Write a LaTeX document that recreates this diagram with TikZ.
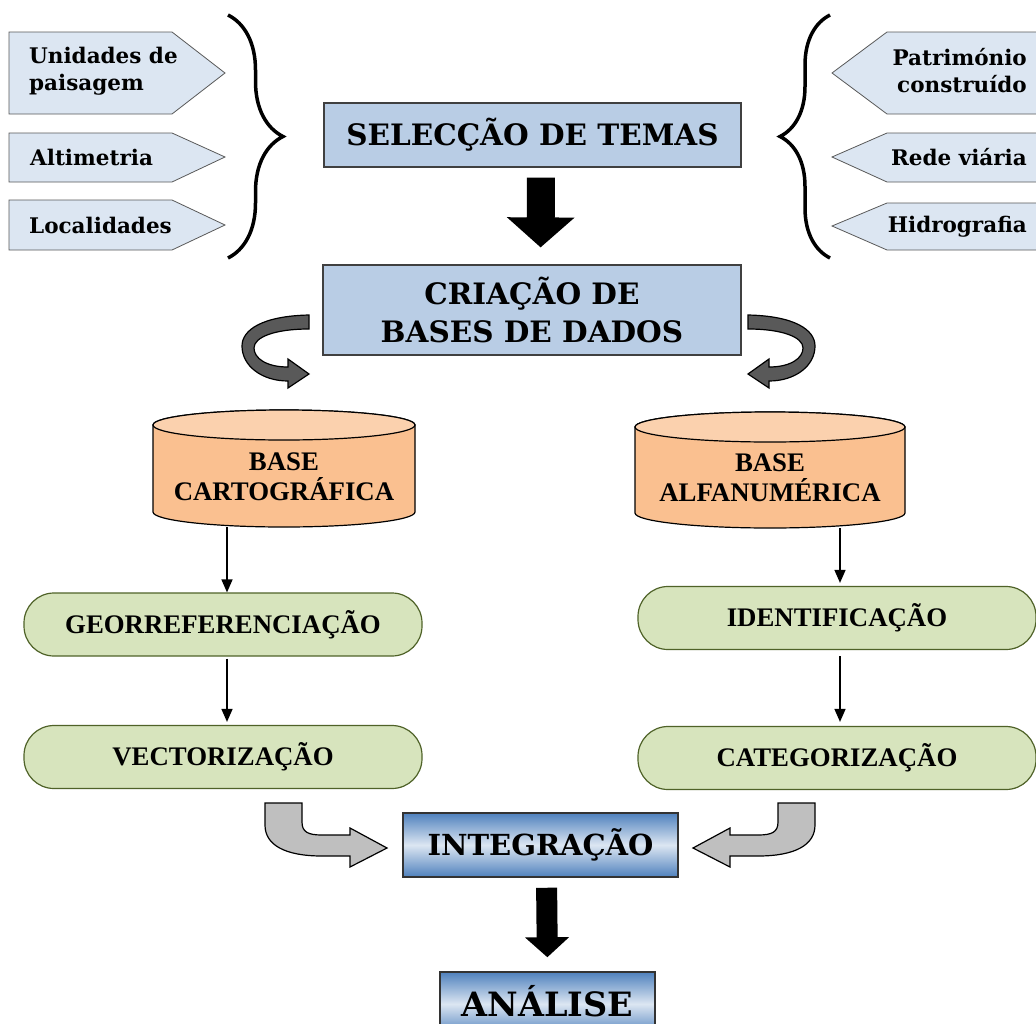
\documentclass[tikz,border=0pt]{standalone}
\usepackage{fontspec}
\setmainfont{Liberation Serif}
\newfontfamily\bookfont{DejaVu Serif}
\usetikzlibrary{arrows.meta,decorations.pathreplacing}

\definecolor{tagblue}{HTML}{DCE6F2}
\definecolor{boxblue}{HTML}{B9CDE5}
\definecolor{darkblue}{HTML}{4F81BD}
\definecolor{cylorange}{HTML}{FAC090}
\definecolor{cyltop}{HTML}{FBD1AE}
\definecolor{stepgreen}{HTML}{D7E4BD}
\definecolor{stepborder}{HTML}{4F6228}
\definecolor{bentgray}{HTML}{BFBFBF}
\definecolor{curlgray}{HTML}{595959}

\begin{document}
\begin{tikzpicture}[x=1pt,y=-1pt,
  tag/.style={fill=tagblue,draw=black!65,line width=0.8pt},
  tagtext/.style={font=\bookfont\bfseries\fontsize{21.5}{27}\selectfont,inner sep=0pt},
  titlebox/.style={fill=boxblue,draw=black!75,line width=1.2pt,align=center,
    font=\bookfont\bfseries\fontsize{29.5}{38}\selectfont,inner sep=0pt},
  shadebox/.style={top color=darkblue,bottom color=darkblue,middle color=tagblue,
    draw=black!80,line width=1.5pt,inner sep=0pt,font=\bookfont\bfseries\fontsize{29}{36}\selectfont},
  cyl/.style={fill=cylorange,draw=black,line width=1.2pt},
  cyltext/.style={align=center,font=\bfseries\fontsize{26.8}{30}\selectfont},
  stepbox/.style={fill=stepgreen,draw=stepborder,line width=1.2pt,rounded corners=30pt,
    minimum width=398pt,minimum height=63pt,font=\bfseries\fontsize{26.8}{30}\selectfont},
  link/.style={line width=1.5pt,-{Triangle[length=13pt,width=11pt]}},
  blockarrow/.style={line width=28pt,-{Triangle[length=30pt,width=66pt]}},
  smallblock/.style={line width=21pt,-{Triangle[length=20pt,width=43pt]}},
  brace/.style={line width=3.5pt,decorate,decoration={brace,amplitude=#1}},
  bent/.style={fill=bentgray,draw=black,line width=1.2pt},
  curl/.style={fill=curlgray,draw=black,line width=1.2pt}]

\useasboundingbox (0,0) rectangle (1036,1023);
\clip (0,0) rectangle (1036,1023);

% themes on the left
\draw[tag] (9,32) -- (172,32) -- (225,73) -- (172,114) -- (9,114) -- cycle;
\draw[tag] (9,133) -- (172,133) -- (225,157) -- (172,182) -- (9,182) -- cycle;
\draw[tag] (9,200) -- (172,200) -- (225,225) -- (172,250) -- (9,250) -- cycle;
\node[tagtext,anchor=west,align=left] (unid) at (29,71) {Unidades de\\paisagem};
\node[tagtext,anchor=west] (alti) at (30,157) {Altimetria};
\node[tagtext,anchor=west] (local) at (29,225) {Localidades};
\draw[brace=55pt] (228,15) -- (228,258);

% themes on the right
\draw[tag] (1040,32) -- (887,32) -- (832,73) -- (887,114) -- (1040,114) -- cycle;
\draw[tag] (1040,133) -- (887,133) -- (832,157) -- (887,182) -- (1040,182) -- cycle;
\draw[tag] (1040,203) -- (887,203) -- (832,226) -- (887,250) -- (1040,250) -- cycle;
\node[tagtext,anchor=east,align=right] (patri) at (1027,71) {Património\\construído};
\node[tagtext,anchor=east] (rede) at (1027,157) {Rede viária};
\node[tagtext,anchor=east] (hidro) at (1027,227) {Hidrografia};
\draw[brace=50pt] (830,258) -- (830,15);

% main boxes
\node[titlebox,minimum width=417pt,minimum height=64pt] (temas) at (532.5,135) {SELECÇÃO DE TEMAS};
\node[titlebox,minimum width=418pt,minimum height=90pt] (bases) at (532,310) {CRIAÇÃO DE\\BASES DE DADOS};
\draw[blockarrow,shorten <=10pt,shorten >=17pt] ([xshift=8.5pt]temas.south) -- ([xshift=8.5pt]bases.north);

% curled arrows
\draw[curl] (309,315) .. controls (262,316) and (242,330) .. (242,346)
  .. controls (242,366) and (262,381) .. (288,381) -- (288,388) -- (309,374) -- (288,359) -- (288,367)
  .. controls (266,367) and (254,358) .. (254,348) .. controls (254,337) and (275,329) .. (309,329) -- cycle;
\draw[curl] (748,315) .. controls (795,316) and (815,330) .. (815,346)
  .. controls (815,366) and (795,381) .. (769,381) -- (769,388) -- (748,374) -- (769,359) -- (769,367)
  .. controls (791,367) and (803,358) .. (803,348) .. controls (803,337) and (782,329) .. (748,329) -- cycle;

% databases
\draw[cyl] (153,425) -- (153,512) arc[start angle=180,end angle=0,x radius=131,y radius=15]
  -- (415,425) arc[start angle=0,end angle=-180,x radius=131,y radius=15] -- cycle;
\draw[cyl,fill=cyltop] (284,425) ellipse[x radius=131,y radius=15];
\node[cyltext] (carto) at (284,477) {BASE\\CARTOGRÁFICA};
\draw[cyl] (635,427) -- (635,513) arc[start angle=180,end angle=0,x radius=135,y radius=15]
  -- (905,427) arc[start angle=0,end angle=-180,x radius=135,y radius=15] -- cycle;
\draw[cyl,fill=cyltop] (770,427) ellipse[x radius=135,y radius=15];
\node[cyltext] (alfa) at (770,478) {BASE\\ALFANUMÉRICA};
\coordinate (cartofoot) at (227,527);
\coordinate (alfafoot) at (840,528);

% processing steps
\node[stepbox] (georef) at (223,624.5) {GEORREFERENCIAÇÃO};
\node[stepbox] (vector) at (223,757) {VECTORIZAÇÃO};
\node[stepbox] (ident) at (837,618) {IDENTIFICAÇÃO};
\node[stepbox] (categ) at (837,758) {CATEGORIZAÇÃO};
\draw[link] (cartofoot) -- (cartofoot |- georef.north);
\draw[link,shorten <=2pt,shorten >=3pt] (georef.south -| cartofoot) -- (vector.north -| cartofoot);
\draw[link,shorten >=3pt] (alfafoot) -- (alfafoot |- ident.north);
\draw[link,shorten <=6pt,shorten >=4pt] (ident.south -| alfafoot) -- (categ.north -| alfafoot);

% integration
\node[shadebox,minimum width=275pt,minimum height=64pt] (integ) at (540.5,845) {INTEGRAÇÃO};
\node[shadebox,minimum width=215pt,minimum height=64pt] (analisebox) at (547.5,1004) {};
\node[font=\bookfont\bfseries\fontsize{33.5}{40}\selectfont,anchor=base,inner sep=0pt] (analise) at (547.5,1016) {ANÁLISE};
\draw[smallblock,shorten <=10pt,shorten >=14pt] ([xshift=6pt]integ.south) -- (analisebox.north);
\draw[bent] (265,803) -- (302,803) -- (302,822) .. controls (302,832) and (308,835) .. (322,835)
  -- (350,835) -- (350,828) -- (387,848) -- (350,867) -- (350,856) -- (322,856)
  .. controls (285,856) and (265,845) .. (265,825) -- cycle;
\draw[bent] (815,803) -- (778,803) -- (778,822) .. controls (778,832) and (772,835) .. (758,835)
  -- (730,835) -- (730,828) -- (693,848) -- (730,867) -- (730,856) -- (758,856)
  .. controls (795,856) and (815,845) .. (815,825) -- cycle;
\end{tikzpicture}
\end{document}
